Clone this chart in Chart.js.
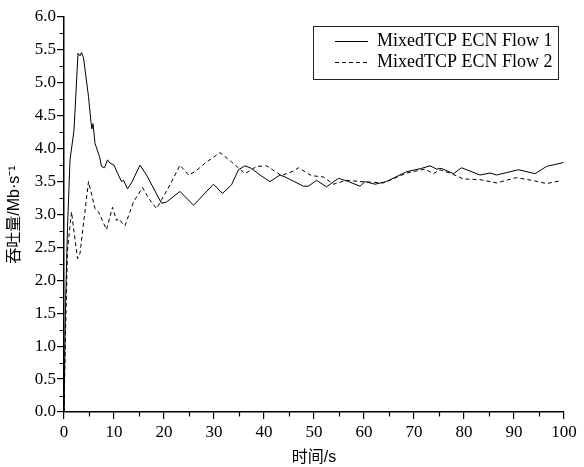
<!DOCTYPE html>
<html>
<head>
<meta charset="utf-8">
<script src="https://cdn.jsdelivr.net/npm/chart.js@4/dist/chart.umd.min.js"></script>
<style>
  html, body { margin: 0; padding: 0; background: #fff; }
  #wrap { width: 584px; height: 467px; position: relative; }
</style>
</head>
<body>
<div id="wrap"><canvas id="chart"></canvas></div>
<script>
// Throughput of two MixedTCP ECN flows over time

const SERIES_LABELS = ['MixedTCP ECN Flow 1', 'MixedTCP ECN Flow 2'];

// Flow 1 (solid)
const FLOW1_TIME = [0, 0.3, 0.7, 1.2, 2.0, 2.8, 3.2, 3.5, 3.9, 4.9, 5.4, 5.6, 5.8, 6.2, 7.1,
  7.5, 8.1, 8.7, 9.2, 10.0, 10.7, 11.5, 11.9, 12.7, 13.5, 15.2, 16.5, 19.5, 20.5, 23.2,
  25.9, 29.9, 31.7, 33.5, 34.9, 36.2, 37.5, 39.2, 41.2, 43.2, 44.2, 47.9, 48.9, 50.5, 52.5,
  54.9, 56.9, 59.2, 60.2, 62.2, 64.5, 68.5, 71.5, 73.2, 74.5, 75.5, 77.9, 79.5, 83.2, 85.2,
  86.5, 90.9, 94.2, 96.5, 99.9];
const FLOW1_RATE = [0, 1.6, 2.8, 3.83, 4.28, 5.45, 5.41, 5.46, 5.38, 4.79, 4.40, 4.30, 4.38, 4.08, 3.88,
  3.73, 3.71, 3.83, 3.78, 3.75, 3.63, 3.50, 3.52, 3.39, 3.48, 3.75, 3.60, 3.17, 3.19, 3.35,
  3.14, 3.46, 3.32, 3.45, 3.68, 3.74, 3.70, 3.60, 3.50, 3.60, 3.57, 3.43, 3.43, 3.52, 3.42,
  3.55, 3.50, 3.43, 3.50, 3.46, 3.50, 3.65, 3.70, 3.74, 3.69, 3.70, 3.62, 3.71, 3.60, 3.63,
  3.60, 3.68, 3.62, 3.73, 3.79];

// Flow 2 (dashed)
const FLOW2_TIME = [0, 0.3, 0.7, 1.5, 2.7, 3.2, 4.9, 6.2, 6.9, 8.5, 9.7, 10.5, 11.0, 11.4, 12.2,
  13.9, 15.7, 16.9, 18.5, 19.5, 21.2, 23.2, 24.9, 26.2, 28.2, 31.2, 33.5, 36.2, 38.5, 40.5,
  43.5, 45.9, 46.9, 49.5, 51.9, 53.9, 56.5, 59.2, 63.9, 68.5, 72.2, 73.9, 75.2, 77.5, 79.9,
  83.2, 86.5, 90.5, 93.5, 96.5, 99.2];
const FLOW2_RATE = [0, 1.2, 2.46, 3.04, 2.33, 2.41, 3.50, 3.09, 3.04, 2.77, 3.11, 2.91, 2.94, 2.89, 2.83,
  3.19, 3.41, 3.25, 3.09, 3.22, 3.45, 3.75, 3.60, 3.65, 3.78, 3.94, 3.80, 3.62, 3.73, 3.74,
  3.59, 3.66, 3.71, 3.59, 3.57, 3.46, 3.52, 3.50, 3.48, 3.63, 3.69, 3.62, 3.68, 3.62, 3.54,
  3.53, 3.48, 3.56, 3.52, 3.47, 3.51];

// Axis ranges / ticks
const X_MIN = 0, X_MAX = 100, X_STEP = 10;
const Y_MIN = 0, Y_MAX = 6, Y_STEP = 0.5;
const X_MINOR = [5, 15, 25, 35, 45, 55, 65, 75, 85, 95];
const Y_MINOR = [0.25, 0.75, 1.25, 1.75, 2.25, 2.75, 3.25, 3.75, 4.25, 4.75, 5.25, 5.75];

const SERIF = "'Liberation Serif', 'Times New Roman', serif";
const SANS = "'Liberation Sans', 'Noto Sans CJK SC', sans-serif";

const toPoints = (xs, ys) => xs.map((x, i) => ({ x, y: ys[i] }));

// short unlabelled ticks between the major ones
const minorTicks = {
  id: 'minorTicks',
  afterDraw(chart) {
    const { ctx, scales: { x, y } } = chart;
    ctx.save();
    ctx.strokeStyle = '#000';
    ctx.lineWidth = 1.2;
    ctx.beginPath();
    for (const v of Y_MINOR) {
      const py = Math.round(y.getPixelForValue(v)) + 0.5;
      ctx.moveTo(x.left - 4.5, py);
      ctx.lineTo(x.left, py);
    }
    for (const v of X_MINOR) {
      const px = Math.round(x.getPixelForValue(v)) + 0.5;
      ctx.moveTo(px, y.bottom);
      ctx.lineTo(px, y.bottom + 4.5);
    }
    ctx.stroke();
    ctx.restore();
  }
};

// boxed legend in the upper right of the plot
const boxLegend = {
  id: 'boxLegend',
  afterDraw(chart) {
    const { ctx, chartArea } = chart;
    const boxL = chartArea.right - 251, boxT = chartArea.top + 9;
    const boxW = 245, boxH = 53;
    ctx.save();
    ctx.fillStyle = '#fff';
    ctx.fillRect(boxL, boxT, boxW, boxH);
    ctx.strokeStyle = '#222';
    ctx.lineWidth = 1;
    ctx.strokeRect(boxL + 0.5, boxT + 0.5, boxW, boxH);
    ctx.font = '18px ' + SERIF;
    ctx.textBaseline = 'middle';
    chart.data.datasets.forEach((ds, i) => {
      const rowY = boxT + 15 + i * 21;
      ctx.beginPath();
      ctx.setLineDash(ds.borderDash || []);
      ctx.strokeStyle = ds.borderColor;
      ctx.lineWidth = ds.borderWidth;
      ctx.moveTo(boxL + 22, Math.round(rowY) + 0.5);
      ctx.lineTo(boxL + 55, Math.round(rowY) + 0.5);
      ctx.stroke();
      ctx.setLineDash([]);
      ctx.fillStyle = '#000';
      ctx.fillText(ds.label, boxL + 64, rowY);
    });
    ctx.restore();
  }
};

new Chart(document.getElementById('chart'), {
  type: 'line',
  data: {
    datasets: [
      {
        label: SERIES_LABELS[0],
        data: toPoints(FLOW1_TIME, FLOW1_RATE),
        borderColor: '#000',
        borderWidth: 1,
        pointRadius: 0,
        tension: 0,
        fill: false
      },
      {
        label: SERIES_LABELS[1],
        data: toPoints(FLOW2_TIME, FLOW2_RATE),
        borderColor: '#000',
        borderWidth: 1,
        borderDash: [4, 3],
        pointRadius: 0,
        tension: 0,
        fill: false
      }
    ]
  },
  options: {
    responsive: true,
    maintainAspectRatio: false,
    animation: false,
    layout: { padding: { top: 17, right: 20, left: 0, bottom: 0 } },
    plugins: {
      legend: { display: false },
      tooltip: { enabled: false }
    },
    scales: {
      x: {
        type: 'linear',
        min: X_MIN,
        max: X_MAX,
        afterFit: (s) => { s.height = 55; },
        ticks: {
          stepSize: X_STEP,
          color: '#000',
          padding: 3,
          font: { family: SERIF, size: 17 }
        },
        grid: { drawOnChartArea: false, drawTicks: true, tickLength: 7, color: '#000', lineWidth: 1.2 },
        border: { display: true, color: '#000', width: 1.5 },
        title: {
          display: true,
          text: '时间/s',
          color: '#000',
          font: { family: SANS, size: 16 },
          padding: { top: 0, bottom: 0 }
        }
      },
      y: {
        type: 'linear',
        min: Y_MIN,
        max: Y_MAX,
        afterFit: (s) => { s.width = 64; },
        ticks: {
          stepSize: Y_STEP,
          color: '#000',
          padding: 1,
          font: { family: SERIF, size: 17 },
          callback: (v) => v.toFixed(1)
        },
        grid: { drawOnChartArea: false, drawTicks: true, tickLength: 7, color: '#000', lineWidth: 1.2 },
        border: { display: true, color: '#000', width: 1.5 },
        title: {
          display: true,
          text: '吞吐量/Mb·s⁻¹',
          color: '#000',
          font: { family: SANS, size: 16 },
          padding: { top: 5, bottom: 0 }
        }
      }
    }
  },
  plugins: [minorTicks, boxLegend]
});
</script>
</body>
</html>
